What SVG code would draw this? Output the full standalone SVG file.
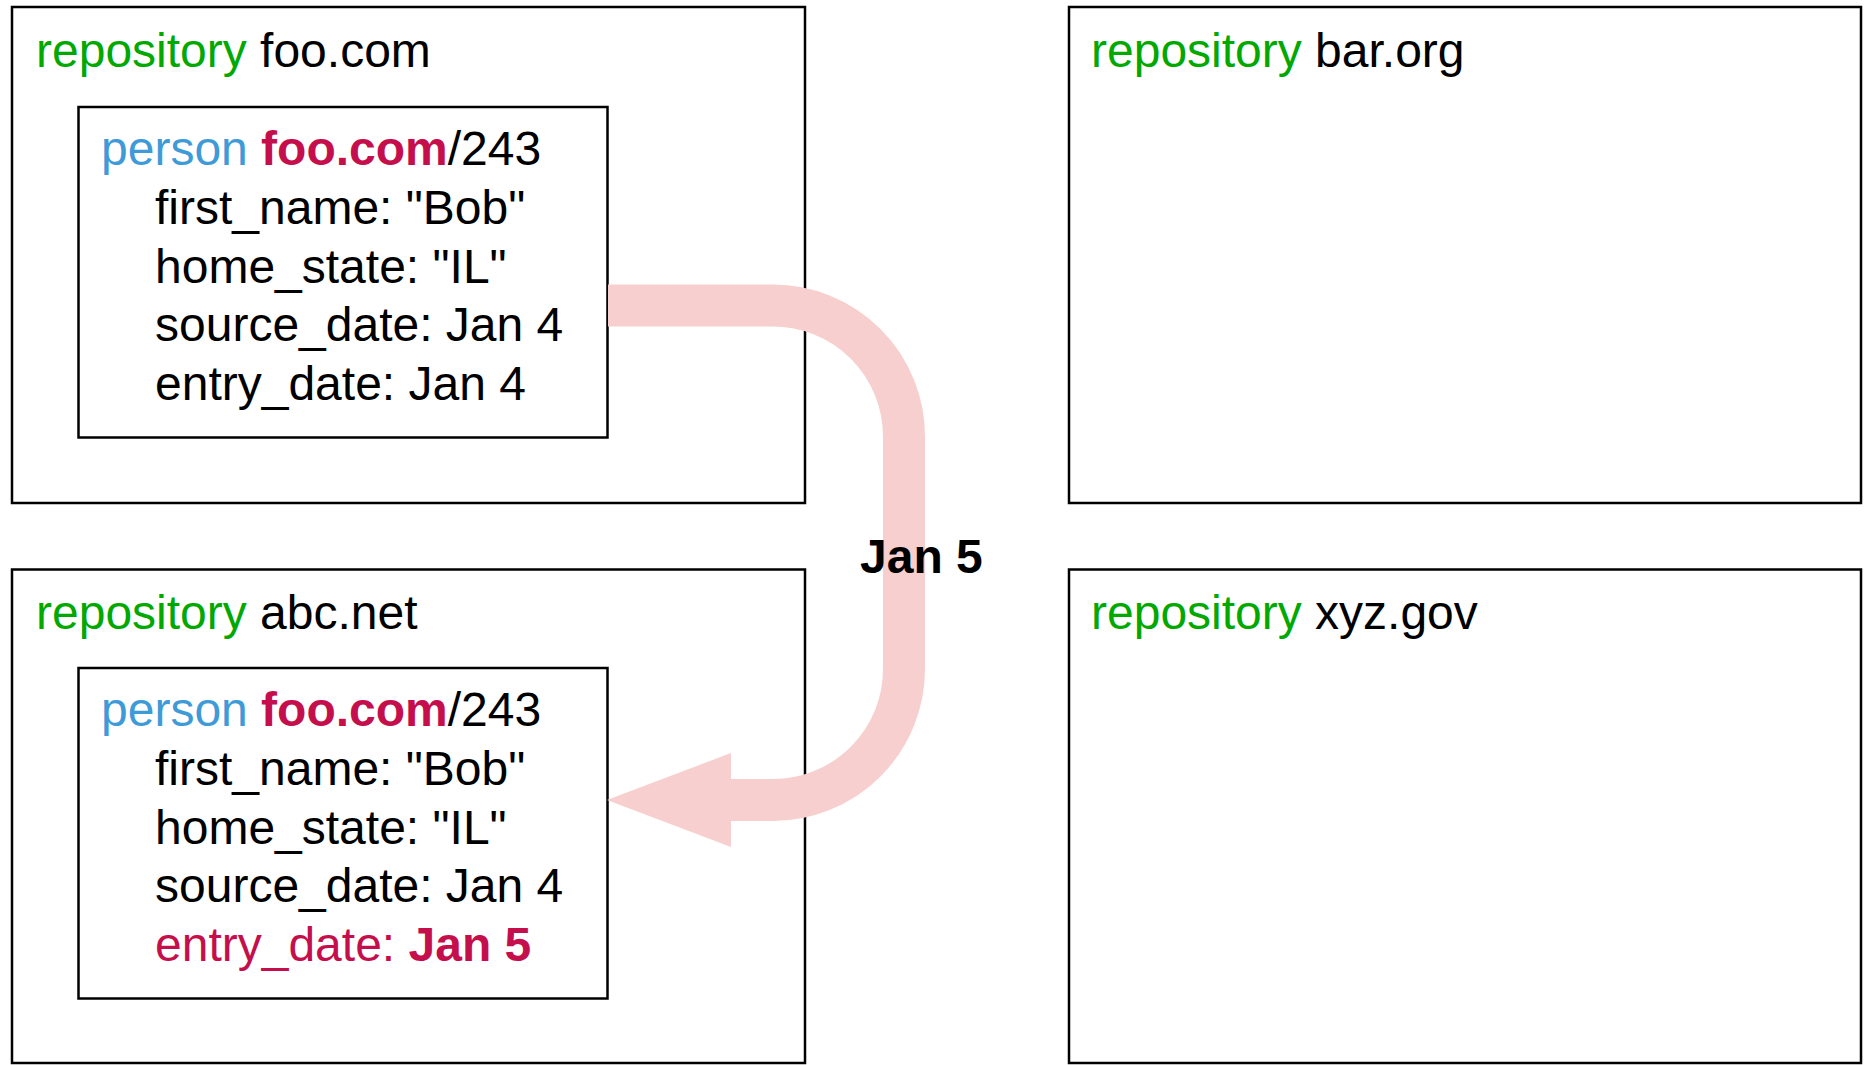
<svg xmlns="http://www.w3.org/2000/svg" width="1864" height="1065" viewBox="0 0 1864 1065">
<style>
  .box { fill: none; stroke: #000; stroke-width: 2.5; }
  .t { font-family: "Liberation Sans", Arial, Helvetica, sans-serif; font-size: 48px; fill: #000; }
  .kw { fill: #00A800; }
  .ty { fill: #3F9AD8; }
  .hl { fill: #C50F4C; }
  .b { font-weight: bold; }
  .flow { fill: none; stroke: #F7CFCE; stroke-width: 42; }
</style>
<defs>
  <marker id="head" markerUnits="userSpaceOnUse" viewBox="0 0 124 94" markerWidth="124" markerHeight="94" refX="0" refY="47" orient="auto">
    <polygon points="0,0 124,47 0,94" fill="#F7CFCE"/>
  </marker>
</defs>
<rect width="1864" height="1065" fill="#fff"/>

<g id="repo-foo">
  <rect class="box" x="12" y="7" width="793" height="496"/>
  <text class="t" x="36" y="67"><tspan class="kw">repository</tspan> foo.com</text>
</g>
<g id="person-foo">
  <rect class="box" x="78.5" y="107" width="529" height="330.5"/>
  <text class="t" x="101" y="165"><tspan class="ty">person</tspan> <tspan class="hl b">foo.com</tspan>/243</text>
  <text class="t" x="155" y="224">first_name: "Bob"</text>
  <text class="t" x="155" y="282.5">home_state: "IL"</text>
  <text class="t" x="155" y="341">source_date: Jan 4</text>
  <text class="t" x="155" y="400">entry_date: Jan 4</text>
</g>

<g id="repo-bar">
  <rect class="box" x="1069" y="7" width="792" height="496"/>
  <text class="t" x="1091" y="67"><tspan class="kw">repository</tspan> bar.org</text>
</g>

<g id="repo-abc">
  <rect class="box" x="12" y="569.5" width="793" height="493.5"/>
  <text class="t" x="36" y="629"><tspan class="kw">repository</tspan> abc.net</text>
</g>
<g id="person-abc">
  <rect class="box" x="78.5" y="668" width="529" height="330.5"/>
  <text class="t" x="101" y="726"><tspan class="ty">person</tspan> <tspan class="hl b">foo.com</tspan>/243</text>
  <text class="t" x="155" y="785">first_name: "Bob"</text>
  <text class="t" x="155" y="843.5">home_state: "IL"</text>
  <text class="t" x="155" y="902">source_date: Jan 4</text>
  <text class="t hl" x="155" y="961">entry_date: <tspan class="b">Jan 5</tspan></text>
</g>

<g id="repo-xyz">
  <rect class="box" x="1069" y="569.5" width="792" height="493.5"/>
  <text class="t" x="1091" y="629"><tspan class="kw">repository</tspan> xyz.gov</text>
</g>

<g id="connectors">
  <path class="flow" d="M 608 305.5 H 773 A 131 131 0 0 1 904 436.5 V 669 A 131 131 0 0 1 773 800 H 731" marker-end="url(#head)"/>
  <text class="t b" x="860" y="573">Jan 5</text>
</g>
</svg>
